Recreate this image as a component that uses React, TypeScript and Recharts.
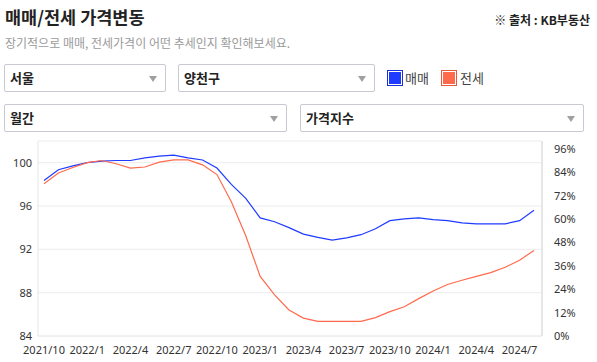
import { LineChart, Line, XAxis, YAxis, CartesianGrid } from "recharts"

const months = [
  "2021/10", "2021/11", "2021/12",
  "2022/1", "2022/2", "2022/3", "2022/4", "2022/5", "2022/6",
  "2022/7", "2022/8", "2022/9", "2022/10", "2022/11", "2022/12",
  "2023/1", "2023/2", "2023/3", "2023/4", "2023/5", "2023/6",
  "2023/7", "2023/8", "2023/9", "2023/10", "2023/11", "2023/12",
  "2024/1", "2024/2", "2024/3", "2024/4", "2024/5", "2024/6",
  "2024/7", "2024/8",
]

// 매매 가격지수
const saleIndex = [
  98.35, 99.35, 99.7,
  100.0, 100.15, 100.2, 100.2, 100.45, 100.6,
  100.7, 100.45, 100.25, 99.5, 98.0, 96.7,
  94.9, 94.55, 94.0, 93.4, 93.1, 92.85,
  93.05, 93.35, 93.9, 94.65, 94.82, 94.9,
  94.75, 94.65, 94.45, 94.35, 94.35, 94.35,
  94.65, 95.6,
]

// 전세 가격지수
const jeonseIndex = [
  98.05, 99.05, 99.55,
  100.0, 100.2, 99.9, 99.5, 99.6, 100.05,
  100.25, 100.25, 99.8, 98.9, 96.4, 93.25,
  89.5, 87.8, 86.4, 85.65, 85.35, 85.35,
  85.35, 85.35, 85.7, 86.25, 86.7, 87.45,
  88.15, 88.75, 89.15, 89.5, 89.85, 90.35,
  91.0, 91.9,
]

const indexTicks = [84, 88, 92, 96, 100]
const pctTicks = [0, 12, 24, 36, 48, 60, 72, 84, 96]

const data = months.map((month, i) => ({
  month,
  매매: saleIndex[i],
  전세: jeonseIndex[i],
}))

const BLUE = "#1f3bff"
const RED = "#ff6a4c"
const KR = "'Noto Sans CJK KR', 'Noto Sans', sans-serif"

function Select({ label, left, top, width }: { label: string; left: number; top: number; width: number }) {
  return (
    <div
      style={{
        position: "absolute",
        left,
        top,
        width,
        height: 28,
        boxSizing: "border-box",
        border: "1px solid #c9c9d3",
        borderRadius: 2,
        background: "#fff",
      }}
    >
      <span
        style={{
          position: "absolute",
          left: 5,
          top: 0,
          lineHeight: "26px",
          fontSize: 13,
          fontWeight: 700,
          color: "#222",
        }}
      >
        {label}
      </span>
      <span
        style={{
          position: "absolute",
          right: 8,
          top: 11,
          width: 0,
          height: 0,
          borderLeft: "4px solid transparent",
          borderRight: "4px solid transparent",
          borderTop: "6px solid #a0a0a0",
        }}
      />
    </div>
  )
}

function LegendBox({ color, border, left }: { color: string; border: string; left: number }) {
  return (
    <span
      style={{
        position: "absolute",
        left,
        top: 70,
        width: 16,
        height: 16,
        boxSizing: "border-box",
        border: `1px solid ${border}`,
        padding: 1,
        background: "#fff",
      }}
    >
      <span style={{ display: "block", width: "100%", height: "100%", background: color }} />
    </span>
  )
}

export default function App() {
  const tick = { fontSize: 11, fill: "#333", fontFamily: "'Noto Sans', sans-serif" }
  return (
    <div
      style={{
        position: "absolute",
        left: 0,
        top: 0,
        width: 597,
        height: 362,
        background: "#fff",
        fontFamily: KR,
        overflow: "hidden",
      }}
    >
      <div style={{ position: "absolute", left: 5, top: 6, fontSize: 17.5, fontWeight: 700, color: "#222", lineHeight: "21px" }}>
        매매/전세 가격변동
      </div>
      <div style={{ position: "absolute", right: 7, top: 12, fontSize: 12, fontWeight: 700, color: "#222", lineHeight: "16px" }}>
        ※ 출처 : KB부동산
      </div>
      <div style={{ position: "absolute", left: 5, top: 35, fontSize: 12, color: "#9a9a9a", lineHeight: "16px" }}>
        장기적으로 매매, 전세가격이 어떤 추세인지 확인해보세요.
      </div>

      <Select label="서울" left={4} top={64} width={162} />
      <Select label="양천구" left={178} top={64} width={197} />
      <LegendBox color={BLUE} border="#1a2fd6" left={387} />
      <span style={{ position: "absolute", left: 405, top: 69, fontSize: 13, color: "#444", lineHeight: "18px" }}>매매</span>
      <LegendBox color={RED} border="#e8573b" left={441} />
      <span style={{ position: "absolute", left: 460, top: 69, fontSize: 13, color: "#444", lineHeight: "18px" }}>전세</span>

      <Select label="월간" left={4} top={104} width={283} />
      <Select label="가격지수" left={300} top={104} width={284} />

      <div style={{ position: "absolute", left: 0, top: 140 }}>
        <LineChart width={597} height={222} data={data} margin={{ top: 1, right: 0, bottom: 0, left: 0 }}>
          <CartesianGrid vertical={false} stroke="#ececec" />
          <XAxis
            dataKey="month"
            interval={2}
            tickLine={false}
            axisLine={{ stroke: "#ececec" }}
            tick={tick}
            tickMargin={4}
            height={26}
            padding={{ left: 6, right: 8 }}
          />
          <YAxis
            domain={[84, 102]}
            ticks={indexTicks}
            tickLine={false}
            axisLine={{ stroke: "#e6e6e6" }}
            tick={tick}
            width={38}
            tickMargin={0}
          />
          <YAxis
            yAxisId="right"
            orientation="right"
            type="number"
            domain={[0, 100]}
            allowDataOverflow
            ticks={pctTicks}
            tickFormatter={(v) => `${v}%`}
            tickLine={false}
            axisLine={{ stroke: "#e6e6e6", strokeWidth: 2 }}
            tick={tick}
            width={55}
            tickMargin={6}
          />
          <Line type="linear" dataKey="매매" stroke={BLUE} strokeWidth={1.2} dot={false} isAnimationActive={false} />
          <Line type="linear" dataKey="전세" stroke={RED} strokeWidth={1.2} dot={false} isAnimationActive={false} />
        </LineChart>
      </div>
    </div>
  )
}
